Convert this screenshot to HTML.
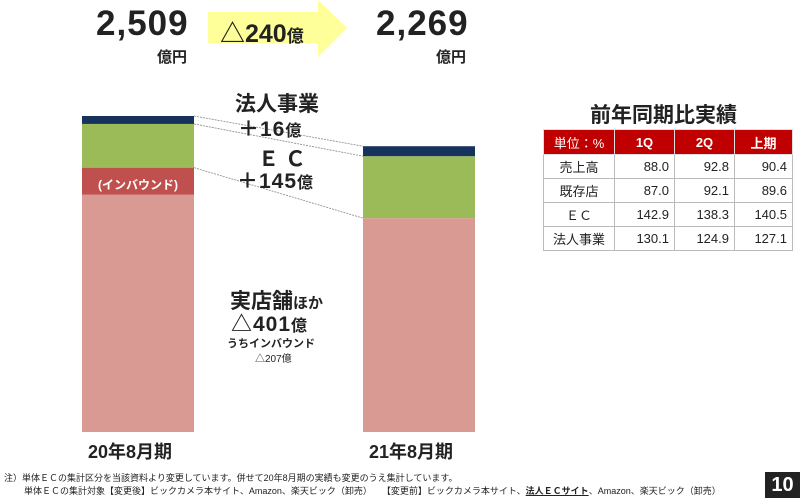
<!DOCTYPE html>
<html><head><meta charset="utf-8"><style>
body{margin:0;background:#fff;font-family:"Liberation Sans","Noto Sans CJK JP",sans-serif;color:#222}
#wrap{position:relative;width:800px;height:498px;overflow:hidden}
.t{position:absolute;font-weight:bold;white-space:nowrap}
table{position:absolute;left:543px;top:129px;border-collapse:collapse;font-size:13px;table-layout:fixed;width:249px}
td{border:1px solid #bbb;height:23px;padding:0 5px;text-align:right}
td:first-child{text-align:center}
th{background:#c00000;color:#fff;height:22px;border:1px solid #ddd;font-size:13px}
</style></head><body>
<div id="wrap">
<div class="t" style="left:96px;top:4px;font-size:35px;letter-spacing:1px">2,509</div>
<div class="t" style="left:157px;top:46px;font-size:15px">億円</div>
<div class="t" style="left:376px;top:4px;font-size:35px;letter-spacing:1px">2,269</div>
<div class="t" style="left:436px;top:46px;font-size:15px">億円</div>
<svg style="position:absolute;left:0;top:0" width="800" height="498">
<polygon points="208,12 318,12 318,0 347,28 318,57 318,43 208,43" fill="#ffff99"/>
</svg>
<div class="t" style="left:220px;top:14px;font-size:25px">△240<span style="font-size:17px">億</span></div>
<svg id="chart" style="position:absolute;left:0;top:0" width="800" height="498"></svg>
<div class="t" style="left:235px;top:88px;font-size:21px">法人事業</div>
<div class="t" style="left:238px;top:113px;font-size:21px;letter-spacing:1px">＋16<span style="font-size:16px">億</span></div>
<div class="t" style="left:258px;top:143px;font-size:21px">Ｅ Ｃ</div>
<div class="t" style="left:237px;top:165px;font-size:21px;letter-spacing:1px">＋145<span style="font-size:16px">億</span></div>
<div class="t" style="left:82px;top:176px;width:112px;text-align:center;color:#fff;font-size:12px">(インバウンド)</div>
<div class="t" style="left:230px;top:285px;font-size:21px">実店舗<span style="font-size:15px">ほか</span></div>
<div class="t" style="left:231px;top:308px;font-size:21px;letter-spacing:1px">△401<span style="font-size:16px">億</span></div>
<div class="t" style="left:227px;top:335px;font-size:11px">うちインバウンド</div>
<div class="t" style="left:255px;top:350px;font-size:10px;font-weight:normal">△207億</div>
<div class="t" style="left:88px;top:438px;font-size:18px">20年8月期</div>
<div class="t" style="left:369px;top:438px;font-size:18px">21年8月期</div>
<div class="t" style="left:590px;top:99px;font-size:21px">前年同期比実績</div>
<table>
<colgroup><col style="width:71px"><col style="width:60px"><col style="width:60px"><col style="width:58px"></colgroup>
<tr><th style="font-weight:normal">単位：%</th><th>1Q</th><th>2Q</th><th>上期</th></tr>
<tr><td>売上高</td><td>88.0</td><td>92.8</td><td>90.4</td></tr>
<tr><td>既存店</td><td>87.0</td><td>92.1</td><td>89.6</td></tr>
<tr><td>ＥＣ</td><td>142.9</td><td>138.3</td><td>140.5</td></tr>
<tr><td>法人事業</td><td>130.1</td><td>124.9</td><td>127.1</td></tr>
</table>
<div style="position:absolute;left:4px;top:472px;font-size:9px;line-height:13px;white-space:nowrap">注）単体ＥＣの集計区分を当該資料より変更しています。併せて20年8月期の実績も変更のうえ集計しています。<br>&nbsp;&nbsp;&nbsp;&nbsp;&nbsp;&nbsp;&nbsp;&nbsp;単体ＥＣの集計対象【変更後】ビックカメラ本サイト、Amazon、楽天ビック（卸売）&nbsp;&nbsp;&nbsp;&nbsp;【変更前】ビックカメラ本サイト、<b><u>法人ＥＣサイト</u></b>、Amazon、楽天ビック（卸売）</div>
<div class="t" style="left:765px;top:472px;width:35px;height:26px;background:#222;color:#fff;font-size:20px;text-align:center;line-height:26px">10</div>
</div>
<script>
const periods=["20年8月期","21年8月期"];
const storesOther=[1884,1698];
const inbound=[215,0];
const ec=[347,492];
const corp=[63,79];
const colors=["#d99a94","#c0504d","#9bbb59","#17325c"];
const series=[storesOther,inbound,ec,corp];
const base=432,scale=316/2509,barX=[82,363],barW=112;
const y=v=>base-v*scale;
const svg=document.getElementById('chart');
const NS="http://www.w3.org/2000/svg";
const tops=[[],[]];
periods.forEach((p,i)=>{
  let cum=0;
  series.forEach((s,k)=>{
    const r=document.createElementNS(NS,'rect');
    
    
    r.setAttribute('x',barX[i]);r.setAttribute('y',y(cum+s[i]));
    r.setAttribute('width',barW);r.setAttribute('height',s[i]*scale);
    r.setAttribute('fill',colors[k]);svg.appendChild(r);
    cum+=s[i];tops[i].push(cum);
  });
});
[[1,1],[2,2],[3,3]].forEach(([a,b])=>{
  const l=document.createElementNS(NS,'line');
  
  
  l.setAttribute('x1',barX[0]+barW);l.setAttribute('y1',y(tops[0][a]));
  l.setAttribute('x2',barX[1]);l.setAttribute('y2',y(tops[1][b]));
  l.setAttribute('stroke','#888');l.setAttribute('stroke-dasharray','2,1');l.setAttribute('stroke-width','0.8');
  svg.appendChild(l);
});
</script>
</body></html>
